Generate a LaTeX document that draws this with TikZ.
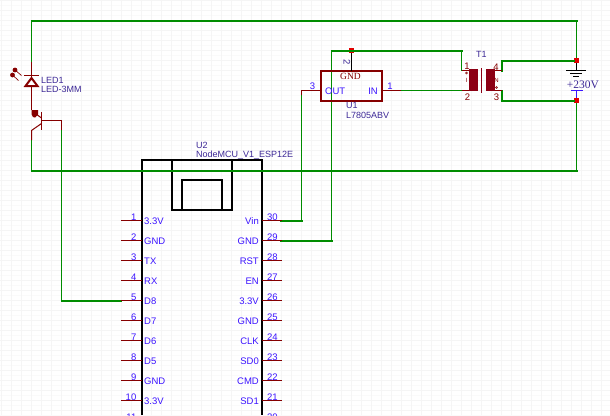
\documentclass[tikz,border=0pt]{standalone}
\usepackage{fontspec}
\setmainfont{Liberation Sans}
\newfontfamily\serifx{Liberation Serif}
\definecolor{wire}{RGB}{0,140,0}
\definecolor{pinred}{RGB}{134,0,0}
\definecolor{blu}{RGB}{60,20,255}
\definecolor{navy}{RGB}{60,40,150}
\definecolor{junc}{RGB}{225,0,0}
\definecolor{coil}{RGB}{140,0,20}
\definecolor{gridc}{RGB}{245,245,245}
\definecolor{gridd}{RGB}{250,250,250}
\tikzset{
  x=1pt,y=-1pt,
  net/.style={draw=wire,line width=2pt,line cap=rect},
  netthin/.style={draw=wire,line width=1pt},
  pin/.style={draw=pinred,line width=1pt},
  sym/.style={draw=pinred,line width=1pt},
  chip/.style={draw=black,line width=2pt},
  pinnum/.style={font=\fontsize{9.5}{10}\selectfont,text=blu,inner sep=0pt},
  pinname/.style={font=\fontsize{9.5}{10}\selectfont,text=blu,inner sep=0pt},
  desig/.style={font=\fontsize{9}{9}\selectfont,text=navy,inner sep=0pt,anchor=west},
  tnum/.style={font=\fontsize{9.5}{10}\selectfont,text=pinred,inner sep=0pt},
  juncbox/.style={fill=junc,minimum size=5pt,inner sep=0pt,draw=none}
}
\begin{document}
\begin{tikzpicture}
\useasboundingbox (0,0) rectangle (610,415);
\fill[white] (0,0) rectangle (610,415);
\foreach \i in {0,...,83}{\draw[gridd,line width=.5pt] (0,\i*5+0.5) -- (610,\i*5+0.5);}
\foreach \i in {0,...,41}{\draw[gridc,line width=.5pt] (0,\i*10+0.5) -- (610,\i*10+0.5);}
\foreach \i in {0,...,61}{\draw[gridc,line width=.5pt] (\i*10+1.5,0) -- (\i*10+1.5,415);}
% nodes
\node[juncbox] (jg) at (351.5,50.5) {};
\node[juncbox] (jt) at (576.5,60.5) {};
\node[juncbox] (jb) at (576.5,100.5) {};
\coordinate (tl) at (31.5,21);
\coordinate (tr) at (576.5,21);
\coordinate (bl) at (31.5,170.5);
\coordinate (br) at (576.5,170.5);
\coordinate (ledt) at (31.5,62);
\coordinate (qe) at (31.5,140);
\coordinate (qb) at (61.5,120.5);
\coordinate (qbd) at (61.5,130);
\coordinate (d8) at (121,300.5);
\coordinate (d8c) at (61.5,300.5);
\coordinate (vin) at (281,220.5);
\coordinate (vinc) at (301.5,220.5);
\coordinate (vint) at (301.5,95);
\coordinate (outc) at (301.5,90.5);
\coordinate (out) at (321,90.5);
\coordinate (gnd) at (281,240.5);
\coordinate (gndc) at (331.5,240.5);
\coordinate (gndt) at (331.5,50.5);
\coordinate (ina) at (401,90.5);
\coordinate (t2) at (461.5,90.5);
\coordinate (t2t) at (461.5,70.5);
\coordinate (t1) at (461.5,50.5);
\coordinate (sr) at (501.5,70.5);
\coordinate (srb) at (501.5,90.5);
% chip
\draw[chip] (142,415) -- (142,160) -- (262,160) -- (262,415);
\draw[chip] (172,160) -- (172,210) -- (232,210) -- (232,160);
\draw[chip] (182,210) -- (182,180) -- (222,180) -- (222,210);
% green nets
\draw[netthin] (ledt) -- (tl);
\draw[net] (tl) -- (tr);
\draw[netthin] (tr) -- (jt);
\draw[netthin] (qe) -- (bl);
\draw[net] (bl) -- (br);
\draw[netthin] (br) -- (jb);
\draw[netthin] (qbd) -- (d8c);
\draw[net] (d8c) -- (d8);
\draw[netthin] (vinc) -- (vint);
\draw[net] (vin) -- (vinc);
\draw[netthin] (gndc) -- (gndt);
\draw[net] (gnd) -- (gndc);
\draw[net] (gndt) -- (t1);
\draw[netthin] (t1) -- (t2t);
\draw[netthin] (ina) -- (t2);
\draw[net] (sr) -- (sr |- jt) -- (jt);
\draw[net] (srb) -- (srb |- jb) -- (jb);
% LED
\draw[sym] (ledt) -- (31.5,110);
\draw[pinred,line width=2pt,fill=white] (31.5,78) -- (37.5,86) -- (25.5,86) -- cycle;
\draw[sym] (24,75.5) -- (39,75.5);
\fill[pinred] (15,70) circle (2.4pt) (12.5,75) circle (2.4pt);
\draw[pinred,line width=.7pt] (15,70) -- (21.5,75.5) (12.5,75) -- (18.5,80.5);
% transistor
\draw[sym] (41.5,112) -- (41.5,130);
\draw[sym] (41.5,120.5) -- (qb) -- (qbd);
\draw[sym] (41.5,123.5) -- (31.5,130.5) -- (qe);
\fill[pinred] (31.5,110) -- (38,110) -- (38,114.5) -- (35,117.5) -- (33,117) -- (31.5,114) -- cycle;
\draw[sym] (41.5,118) -- (36,114);
\node[desig] (led1) at (41,80.5) {LED1};
\node[desig] (led2) at (41,89.5) {LED-3MM};
% regulator
\draw[pinred,line width=2pt] (321,71) rectangle (381.5,100.5);
\draw[black,line width=1pt] (jg) -- (351.5,71);
\node[pinnum,rotate=-90,text=navy] (n2) at (347,62) {2};
\node[font=\fontsize{9.5}{10}\selectfont\serifx,text=pinred,inner sep=0pt] (gl) at (350.5,76.5) {GND};
\node[pinname,anchor=west] (ol) at (325,91) {OUT};
\node[pinname,anchor=east] (il) at (378,91) {IN};
\draw[pin] (vint) -- (outc) -- (out);
\draw[pin] (381,90.5) -- (ina);
\node[pinnum] (n3) at (312.5,86.5) {3};
\node[pinnum] (n1) at (390,86.5) {1};
\node[desig] (u1) at (346,105) {U1};
\node[desig] (u1b) at (346,115) {L7805ABV};
% transformer
\draw[pin] (t2t) -- (469,70.5) (t2) -- (469,90.5) (494,70.5) -- (sr) (494,90.5) -- (srb);
\fill[coil] (469,69) rectangle (478,91);
\fill[coil] (485.5,69) rectangle (494.5,91);
\draw[coil,line width=1pt] (481.5,68) -- (481.5,93);
\draw[pinred,line width=.6pt] (466.5,73) circle (1pt) (496.5,87.5) circle (1pt);
\node[desig] (t1l) at (476,54) {T1};
\node[tnum] (p1) at (467,66.5) {1};
\node[tnum] (p2) at (467.5,97) {2};
\node[tnum] (p4) at (496,67) {4};
\node[tnum] (p3) at (496.5,97) {3};
\node[font=\fontsize{6}{6}\selectfont,text=pinred,inner sep=0pt] (pi) at (466.5,80.5) {I};
\node[font=\fontsize{6}{6}\selectfont,text=pinred,inner sep=0pt] (pn) at (496.5,80.5) {N};
% ground & +230V
\draw[black,line width=1pt] (jt) -- (576.5,70);
\draw[black,line width=1.2pt] (566,70.5) -- (586,70.5) (570,73.5) -- (582,73.5) (573,76.5) -- (579,76.5);
\draw[blu,line width=1pt] (jb) -- (576.5,90.5);
\draw[blu,line width=1pt] (571,90.5) -- (582.5,90.5);
\node[font=\fontsize{11.5}{12}\selectfont\serifx,text=navy,inner sep=0pt] (v230) at (583,85) {+230V};
% U2 labels
\node[desig] (u2) at (196,145.5) {U2};
\node[desig] (u2b) at (196,155) {NodeMCU\_V1\_ESP12E};
% pins
\foreach \n/\t [count=\i from 0] in {1/3.3V,2/GND,3/TX,4/RX,5/D8,6/D7,7/D6,8/D5,9/GND,10/3.3V}{
  \draw[pin] (121,220.5+\i*20) -- (142,220.5+\i*20);
  \node[pinnum,anchor=east] (ln\n) at (136.5,217+\i*20) {\n};
  \node[pinname,anchor=west] (lt\n) at (144,221.5+\i*20) {\t};
}
\foreach \n/\t [count=\i from 0] in {30/Vin,29/GND,28/RST,27/EN,26/3.3V,25/GND,24/CLK,23/SD0,22/CMD,21/SD1}{
  \draw[pin] (262,220.5+\i*20) -- (282,220.5+\i*20);
  \node[pinnum,anchor=west] (rn\n) at (267,217+\i*20) {\n};
  \node[pinname,anchor=east] (rt\n) at (259,221.5+\i*20) {\t};
}
\node[pinnum,anchor=east] (ln11) at (136.5,417) {11};
\node[pinnum,anchor=west] (rn20) at (267,417) {20};
\end{tikzpicture}
\end{document}
